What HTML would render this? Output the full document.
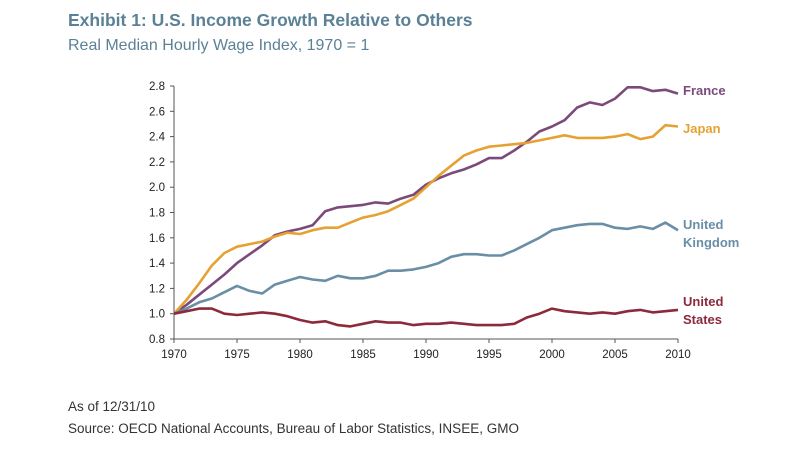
<!DOCTYPE html>
<html><head><meta charset="utf-8"><style>
html,body{margin:0;padding:0;background:#fff;width:800px;height:450px;overflow:hidden}
</style></head><body>
<svg width="800" height="450" xmlns="http://www.w3.org/2000/svg" font-family="Liberation Sans, sans-serif" id="s">
<text x="68" y="26" font-size="17.5" font-weight="bold" fill="#5b8196">Exhibit 1: U.S. Income Growth Relative to Others</text>
<text x="68" y="50" font-size="16" fill="#5b8196">Real Median Hourly Wage Index, 1970 = 1</text>
<text x="68" y="411" font-size="13.5" fill="#333">As of 12/31/10</text>
<text x="68" y="433" font-size="13.5" fill="#333">Source:  OECD National Accounts, Bureau of Labor Statistics, INSEE, GMO</text>
<g id="ax" stroke="#555" stroke-width="1"></g>
<g id="lb" font-size="11.5" fill="#222"></g>
<g id="ln" fill="none" stroke-width="2.6" stroke-linejoin="round"></g>
<g font-size="13" font-weight="bold">
<text x="683" y="95" fill="#7b4a7a">France</text>
<text x="683" y="133" fill="#e5a232">Japan</text>
<text x="683" y="229" fill="#6a8ea6">United</text>
<text x="683" y="247" fill="#6a8ea6">Kingdom</text>
<text x="683" y="306" fill="#8c2a3c">United</text>
<text x="683" y="324" fill="#8c2a3c">States</text>
</g>
</svg>
<script>
var X0=174,X1=678,Y0=339,Y28=86;
function x(i){return X0+(X1-X0)*i/40}
function y(v){return Y0-(v-0.8)/2*(Y0-Y28)}
var NS="http://www.w3.org/2000/svg";
function el(p,t,a,txt){var e=document.createElementNS(NS,t);for(var k in a)e.setAttribute(k,a[k]);if(txt)e.textContent=txt;p.appendChild(e);return e}
var ax=document.getElementById('ax'),lb=document.getElementById('lb'),ln=document.getElementById('ln');
el(ax,'line',{x1:X0,y1:Y28,x2:X0,y2:Y0});
el(ax,'line',{x1:X0,y1:Y0,x2:X1,y2:Y0});
for(var v=0.8;v<2.81;v+=0.2){var yy=y(v);el(ax,'line',{x1:X0-4,y1:yy,x2:X0,y2:yy});el(lb,'text',{x:X0-9,y:yy+4,'text-anchor':'end'},v.toFixed(1));}
for(var i=0;i<=40;i+=5){var xx=x(i);el(ax,'line',{x1:xx,y1:Y0,x2:xx,y2:Y0+4});el(lb,'text',{x:xx,y:Y0+19,'text-anchor':'middle'},String(1970+i));}
var D={
'#7b4a7a':[1.0,1.07,1.15,1.23,1.31,1.40,1.47,1.54,1.62,1.65,1.67,1.70,1.81,1.84,1.85,1.86,1.88,1.87,1.91,1.94,2.02,2.07,2.11,2.14,2.18,2.23,2.23,2.29,2.36,2.44,2.48,2.53,2.63,2.67,2.65,2.70,2.79,2.79,2.76,2.77,2.74],
'#e5a232':[1.0,1.11,1.24,1.38,1.48,1.53,1.55,1.57,1.61,1.64,1.63,1.66,1.68,1.68,1.72,1.76,1.78,1.81,1.86,1.91,2.0,2.09,2.17,2.25,2.29,2.32,2.33,2.34,2.35,2.37,2.39,2.41,2.39,2.39,2.39,2.40,2.42,2.38,2.40,2.49,2.48],
'#6a8ea6':[1.0,1.04,1.09,1.12,1.17,1.22,1.18,1.16,1.23,1.26,1.29,1.27,1.26,1.30,1.28,1.28,1.30,1.34,1.34,1.35,1.37,1.40,1.45,1.47,1.47,1.46,1.46,1.50,1.55,1.60,1.66,1.68,1.70,1.71,1.71,1.68,1.67,1.69,1.67,1.72,1.66],
'#8c2a3c':[1.0,1.02,1.04,1.04,1.00,0.99,1.00,1.01,1.00,0.98,0.95,0.93,0.94,0.91,0.90,0.92,0.94,0.93,0.93,0.91,0.92,0.92,0.93,0.92,0.91,0.91,0.91,0.92,0.97,1.0,1.04,1.02,1.01,1.00,1.01,1.00,1.02,1.03,1.01,1.02,1.03]};
for(var c in D){var p=D[c].map(function(v,i){return x(i).toFixed(1)+','+y(v).toFixed(1)}).join(' ');el(ln,'polyline',{points:p,stroke:c});}
</script>
</body></html>
